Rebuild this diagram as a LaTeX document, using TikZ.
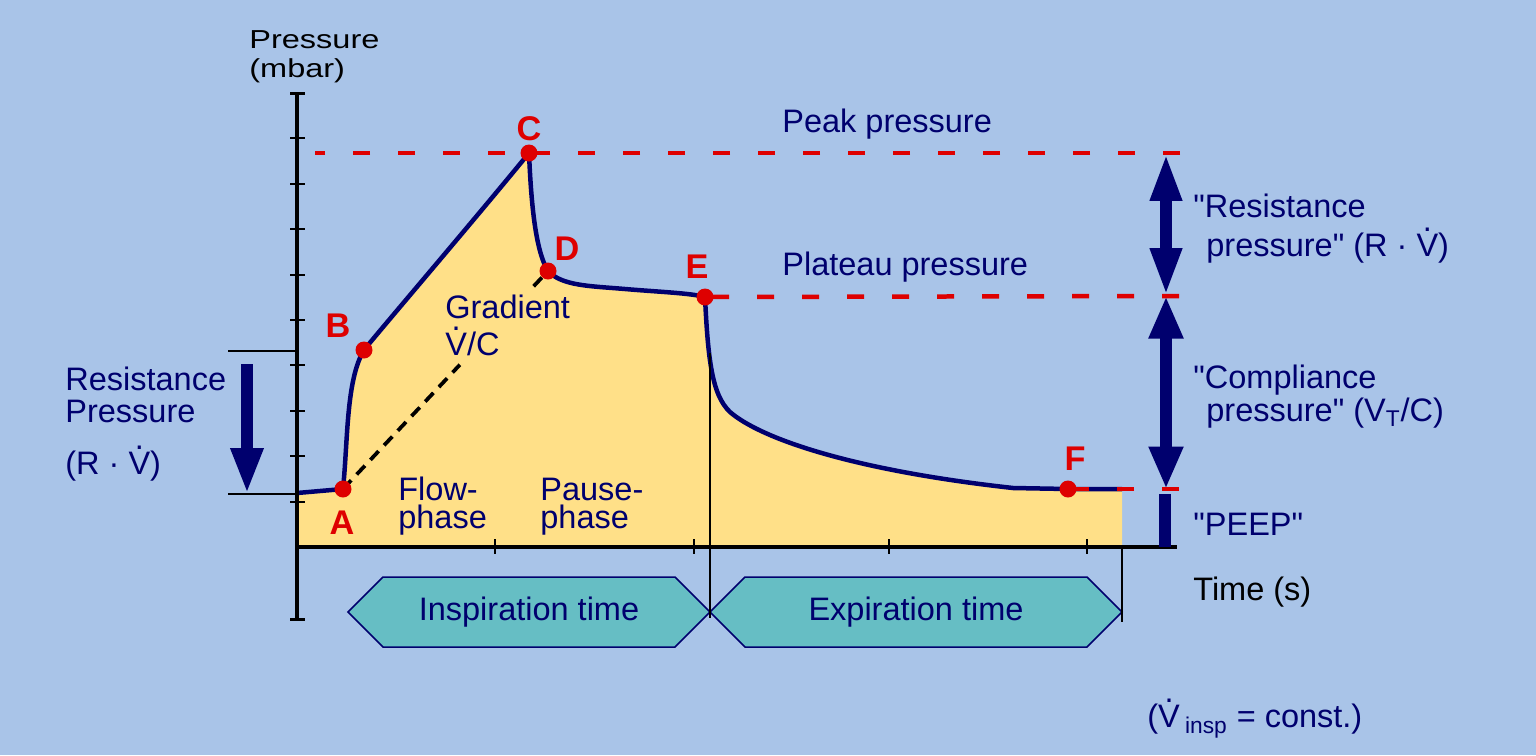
\documentclass[tikz,border=0pt]{standalone}
\usepackage{fontspec}
\usepackage{graphicx}
\setmainfont{Liberation Sans}[Ligatures=TeXOff]
\usetikzlibrary{arrows.meta,shapes.symbols,calc}
\definecolor{bgblue}{RGB}{169,196,232}
\definecolor{navy}{RGB}{0,0,110}
\definecolor{ptred}{RGB}{222,0,0}
\definecolor{areafill}{RGB}{255,224,136}
\definecolor{phaseteal}{RGB}{102,190,196}
\newcommand\Vdot{V\llap{\makebox[0.667em]{\smash{\raisebox{0.76em}{.}}}}}
\newcommand\pcurve{(297,493) -- (A) .. controls (348,440) and (346,380) .. (B)
  .. controls (380,330) and (470,225) .. (C)
  .. controls (531,200) and (535,250) .. (D)
  .. controls (562,286) and (590,286) .. (625,289)
  .. controls (660,292) and (690,293) .. (E)
  .. controls (708,360) and (712,395) .. (730,412)
  .. controls (760,438) and (850,470) .. (1013,488) -- (F) -- (1122,489)}
\begin{document}
\begin{tikzpicture}[x=0.02cm,y=-0.02cm,
  lbl/.style={text=navy,font=\fontsize{18.5}{22}\selectfont,anchor=base west,inner sep=0},
  axlbl/.style={text=black,font=\fontsize{14.8}{18}\selectfont,anchor=base west,inner sep=0},
  ptlbl/.style={text=ptred,font=\fontsize{19.5}{22}\selectfont\bfseries,anchor=base,inner sep=0},
  ptdot/.style={circle,fill=ptred,inner sep=0,minimum size=0.34cm},
  curve/.style={navy,line width=0.09cm,line join=round},
  redline/.style={ptred,line width=0.09cm,dash pattern=on 0.34cm off 0.56cm},
  gradline/.style={black,line width=0.075cm,dash pattern=on 0.24cm off 0.16cm},
  tick/.style={black,line width=0.04cm},
  guide/.style={black,line width=0.035cm},
  fatarrow/.style={navy,line width=0.25cm},
  phase/.style={shape=signal,signal to=west and east,draw=navy,line width=0.03cm,
    fill=phaseteal,text=navy,font=\fontsize{18.5}{22}\selectfont,minimum height=1.4cm,inner sep=0}]
\fill[bgblue] (0,0) rectangle (1536,755);
\useasboundingbox (0,0) rectangle (1536,755);
\coordinate (O) at (297,547);
\coordinate (A) at (343,489);
\coordinate (B) at (364,350);
\coordinate (C) at (529,153);
\coordinate (D) at (548,271);
\coordinate (E) at (705,297);
\coordinate (F) at (1068,489);
\coordinate (pk) at (1166,153);
\coordinate (pl) at (1166,296);
\coordinate (pe) at (1166,489);
\coordinate (pkR) at (1180,153);
\coordinate (pkL) at (315,153);
\coordinate (plR) at (1179,296);
\coordinate (peR) at (1179,489);
\coordinate (rpT) at (228,351);
\coordinate (rpB) at (228,494);
\coordinate (la) at (247,364);
\coordinate (pb) at (1165,494);
\coordinate (inspT) at (710,353);
\coordinate (inspB) at (710,618);
\coordinate (expT) at (1122,548);
\coordinate (expB) at (1122,622);

\fill[areafill] \pcurve -- (1122,547) -- (O) -- cycle;

\node[phase,minimum width=7.24cm] (insp) at (529,612) {Inspiration time};
\node[phase,minimum width=8.24cm] (exp) at (916,612) {Expiration time};

\draw[gradline] (A) -- ($(A)!0.57!(D)$);
\draw[gradline] ($(A)!0.93!(D)$) -- (D);
\draw[curve] \pcurve;

\draw[black,line width=0.08cm] (297,93) -- (297,619);
\draw[black,line width=0.08cm] (O) -- (1177,547);
\foreach \k in {1,...,10}
  \draw[tick] (290,{547-45.4*\k}) -- (305,{547-45.4*\k});
\draw[tick,line width=0.06cm] (290,93) -- (305,93);
\draw[tick,line width=0.06cm] (290,619) -- (305,619);
\foreach \x in {495,694,889,1087}
  \draw[tick] (\x,539) -- (\x,554);

\draw[guide] (inspT) -- (inspB);
\draw[guide] (expT) -- (expB);
\draw[guide] (rpT) -- (rpT -| O);
\draw[guide] (rpB) -- (rpB -| O);

\draw[fatarrow,-{Triangle[width=0.6cm,length=0.92cm]}] (la) -- (la |- rpB);
\draw[fatarrow,{Triangle[width=0.58cm,length=0.96cm]}-{Triangle[width=0.58cm,length=0.96cm]}] (pk) -- (pl);
\draw[fatarrow,{Triangle[width=0.64cm,length=0.85cm]}-{Triangle[width=0.64cm,length=0.85cm]}] (pl) -- (pe);
\draw[fatarrow,line width=0.24cm] (pb) -- (pb |- O);

\draw[redline] (pkR) -- (pkL);
\draw[redline] (plR) -- (E);
\draw[redline] (peR) -- (F);

\node[ptdot] (ptA) at (A) {};
\node[ptdot] (ptB) at (B) {};
\node[ptdot] (ptC) at (C) {};
\node[ptdot] (ptD) at (D) {};
\node[ptdot] (ptE) at (E) {};
\node[ptdot] (ptF) at (F) {};
\node[ptlbl] (lA) at (342,534) {A};
\node[ptlbl] (lB) at (338,337) {B};
\node[ptlbl] (lC) at (529,140) {C};
\node[ptlbl] (lD) at (567,260) {D};
\node[ptlbl] (lE) at (697,278) {E};
\node[ptlbl] (lF) at (1075,470) {F};

\node[axlbl] (ylab1) at (249,48) {\scalebox{1.25}[1]{Pressure}};
\node[axlbl] (ylab2) at (249,77) {\scalebox{1.25}[1]{(mbar)}};
\node[axlbl,font=\fontsize{18.5}{22}\selectfont] (tlab) at (1193,600) {Time (s)};

\node[lbl] (peak) at (782,132) {Peak pressure};
\node[lbl] (plat) at (782,275) {Plateau pressure};
\node[lbl] (grad1) at (445,318) {Gradient};
\node[lbl] (grad2) at (445,355) {\Vdot/C};
\node[lbl] (flow1) at (398,500) {Flow-};
\node[lbl] (flow2) at (398,528) {phase};
\node[lbl] (pause1) at (540,500) {Pause-};
\node[lbl] (pause2) at (540,528) {phase};
\node[lbl] (rp1) at (65,390) {Resistance};
\node[lbl] (rp2) at (65,422) {Pressure};
\node[lbl] (rp3) at (65,474) {(R · \Vdot)};
\node[lbl] (res1) at (1193,217) {"Resistance};
\node[lbl] (res2) at (1206,256) {pressure" (R · \Vdot)};
\node[lbl] (comp1) at (1193,388) {"Compliance};
\node[lbl] (comp2) at (1206,421) {pressure" (V\textsubscript{T}/C)};
\node[lbl] (peep) at (1193,535) {"PEEP"};
\node[lbl] (note) at (1147,727) {(\Vdot\kern3pt\textsubscript{insp} = const.)};
\end{tikzpicture}
\end{document}
